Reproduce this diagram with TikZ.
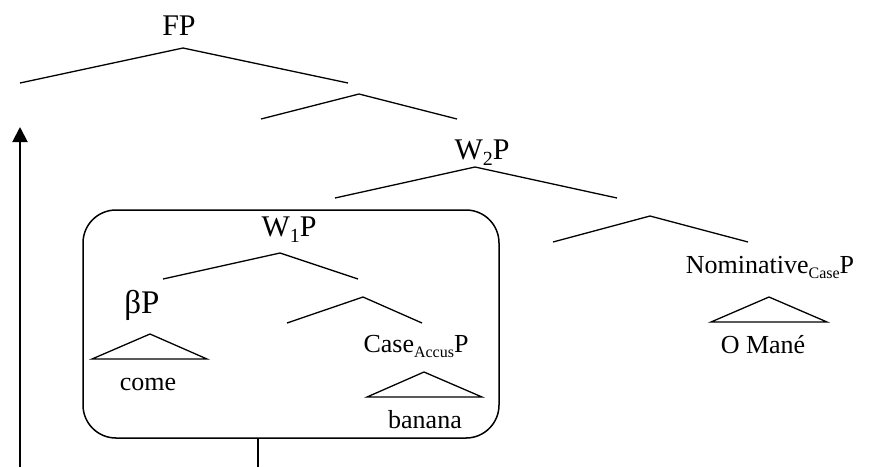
\documentclass[tikz,border=0pt]{standalone}
\usepackage{fontspec}
\setmainfont{Liberation Serif}
\usetikzlibrary{arrows.meta}
\newcommand\catsub[1]{\raisebox{-0.22em}{\fontsize{16}{16}\selectfont #1}}
\newcommand\wsub[1]{\raisebox{-0.2em}{\fontsize{20}{20}\selectfont #1}}
\begin{document}
\begin{tikzpicture}[x=1pt,y=-1pt,
  branch/.style={line width=1.3pt},
  bigcat/.style={anchor=base,inner sep=0pt,font=\fontsize{30}{36}\selectfont},
  cat/.style={anchor=base,inner sep=0pt,font=\fontsize{26}{31}\selectfont},
  word/.style={anchor=base,inner sep=0pt,font=\fontsize{26}{31}\selectfont},
  phasebox/.style={draw,line width=1.5pt,rounded corners=33pt,inner sep=0pt}]
\useasboundingbox (0,0) rectangle (872,467);

% labels
\node[bigcat] (fp) at (179,35) {FP};
\node[bigcat] (w2p) at (482,159) {W\wsub{2}P};
\node[bigcat] (w1p) at (289,236) {W\wsub{1}P};
\node[bigcat,font=\fontsize{33}{38}\selectfont] (bp) at (142,313) {βP};
\node[cat] (casep) at (416,352) {Case\catsub{Accus}P};
\node[cat] (nomp) at (770,273) {Nominative\catsub{Case}P};
\node[word] (come) at (148,390) {come};
\node[word] (banana) at (425,428) {banana};
\node[word] (omane) at (763,353) {O Mané};

% FP branches
\coordinate (fpA) at (183,48);
\coordinate (fpL) at (20,83);
\coordinate (fpR) at (348,83);
\draw[branch] (fpL) -- (fpA) -- (fpR);
% intermediate node
\coordinate (xA) at (359,94);
\coordinate (xL) at (261,119);
\coordinate (xR) at (457,119);
\draw[branch] (xL) -- (xA) -- (xR);
% W2P branches
\coordinate (w2A) at (475,167);
\coordinate (w2L) at (335,198);
\coordinate (w2R) at (617,198);
\draw[branch] (w2L) -- (w2A) -- (w2R);
% right daughter of W2P
\coordinate (yA) at (650,216);
\coordinate (yL) at (553,242);
\coordinate (yR) at (748,242);
\draw[branch] (yL) -- (yA) -- (yR);
% Nominative triangle
\coordinate (nA) at (769,297);
\coordinate (nL) at (711,322);
\coordinate (nR) at (827,322);
\draw[branch] (nA) -- (nL) -- (nR) -- cycle;

% boxed W1P
\node[phasebox,minimum width=416pt,minimum height=228pt] (box) at (291,324) {};
\coordinate (w1A) at (280,253);
\coordinate (w1L) at (163,279);
\coordinate (w1R) at (358,279);
\draw[branch] (w1L) -- (w1A) -- (w1R);
\coordinate (zA) at (363,297);
\coordinate (zL) at (287,323);
\coordinate (zR) at (422,323);
\draw[branch] (zL) -- (zA) -- (zR);
% beta triangle
\coordinate (bA) at (150,334);
\coordinate (bL) at (92,359);
\coordinate (bR) at (207,359);
\draw[branch] (bA) -- (bL) -- (bR) -- cycle;
% Case triangle
\coordinate (cA) at (424,372);
\coordinate (cL) at (367,397);
\coordinate (cR) at (482,397);
\draw[branch] (cA) -- (cL) -- (cR) -- cycle;

% movement path
\coordinate (boxdrop) at (258,467);
\draw[line width=1.6pt] (box.south -| boxdrop) -- (boxdrop);
\coordinate (arrowfoot) at (20,467);
\coordinate (arrowtip) at (20,127);
\draw[line width=2pt,-{Triangle[length=15pt,width=15pt]}] (arrowfoot) -- (arrowtip);
\end{tikzpicture}
\end{document}
